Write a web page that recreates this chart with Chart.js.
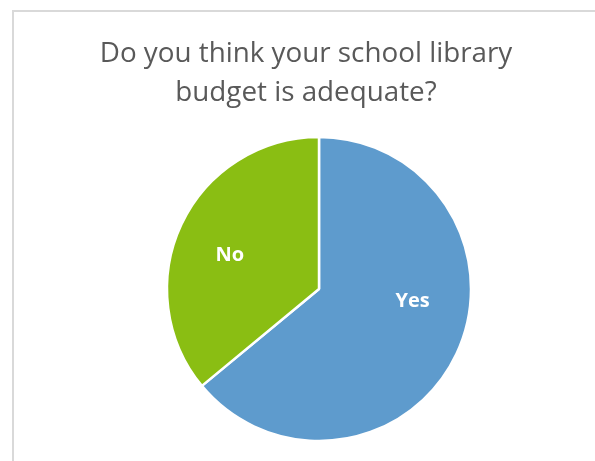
<!DOCTYPE html>
<html>
<head>
<meta charset="utf-8">
<script src="https://cdn.jsdelivr.net/npm/chart.js@4/dist/chart.umd.min.js"></script>
<style>
  html, body { margin: 0; padding: 0; background: #fff; overflow: hidden; }
  #wrap { position: relative; width: 595px; height: 461px; }
  #frame {
    position: absolute; left: 12px; top: 10px; width: 620px; height: 480px;
    border-left: 2px solid #d9d9d9; border-top: 2px solid #d9d9d9;
  }
  #chart { position: absolute; left: 0; top: 0; }
</style>
</head>
<body>
<div id="wrap">
  <div id="frame"></div>
  <canvas id="chart" width="595" height="461"></canvas>
</div>
<script>
"use strict";

var titleLines = ['Do you think your school library', 'budget is adequate?'];
var labels = ['Yes', 'No'];
var values = [64, 36];
var sliceColors = ['#5E9BCD', '#8ABE13'];

// where each slice name sits: share of the slice's sweep and share of the radius
var labelSpots = [
    { along: 0.42, out: 0.62 },
    { along: 0.47, out: 0.63 }
];

// two-line heading drawn above the pie
var headingPlugin = {
    id: 'heading',
    afterDraw: function (chart) {
        var ctx = chart.ctx;
        ctx.save();
        ctx.font = '27.8px "Open Sans"';
        ctx.fillStyle = '#595959';
        ctx.textAlign = 'center';
        ctx.textBaseline = 'alphabetic';
        titleLines.forEach(function (line, i) {
            ctx.fillText(line, 306, 62 + i * 39);
        });
        ctx.restore();
    }
};

// slice names written inside the slices
var sliceLabelPlugin = {
    id: 'sliceLabels',
    afterDatasetsDraw: function (chart) {
        var ctx = chart.ctx;
        var meta = chart.getDatasetMeta(0);
        ctx.save();
        ctx.font = 'bold 20px "Open Sans"';
        ctx.fillStyle = '#ffffff';
        ctx.textAlign = 'center';
        ctx.textBaseline = 'middle';
        meta.data.forEach(function (arc, i) {
            var p = arc.getProps(['x', 'y', 'startAngle', 'endAngle', 'outerRadius'], true);
            var spot = labelSpots[i];
            var a = p.startAngle + (p.endAngle - p.startAngle) * spot.along;
            var r = p.outerRadius * spot.out;
            ctx.fillText(labels[i], p.x + Math.cos(a) * r, p.y + Math.sin(a) * r + 1);
        });
        ctx.restore();
    }
};

const context = document.getElementById('chart');
const myChart = new Chart(context, {
    type: 'pie',
    data: {
        labels: labels,
        datasets: [{
            data: values,
            backgroundColor: sliceColors,
            borderColor: '#ffffff',
            borderWidth: 2.5
        }]
    },
    options: {
        responsive: false,
        animation: false,
        radius: 152,
        layout: {
            padding: { top: 117, bottom: 0, left: 43, right: 0 }
        },
        plugins: {
            legend: { display: false },
            title: { display: false },
            tooltip: { enabled: false }
        }
    },
    plugins: [headingPlugin, sliceLabelPlugin]
});
</script>
</body>
</html>
